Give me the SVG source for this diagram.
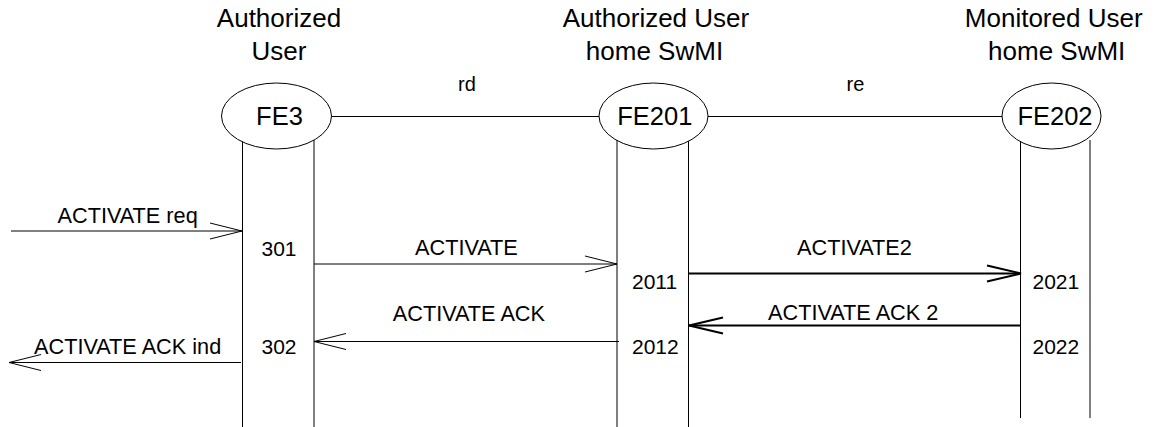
<svg xmlns="http://www.w3.org/2000/svg" width="1159" height="427" viewBox="0 0 1159 427">
<style>
text{font-family:"Liberation Sans",Arial,sans-serif;fill:#000}
.hd{font-size:26px;text-anchor:middle}
.fe{font-size:25.5px;text-anchor:middle}
.lb{font-size:21.7px}
.nm{font-size:21px}
.ln{stroke:#000;stroke-width:1;fill:none}
.tk{stroke:#000;stroke-width:2;fill:none}
</style>
<defs>
<marker id="ah" markerUnits="userSpaceOnUse" markerWidth="40" markerHeight="24" refX="32" refY="10" orient="auto" overflow="visible">
<path d="M0,2 L32,10 L0,18" fill="none" stroke="#000" stroke-width="1"/>
</marker>
<marker id="ahk" markerUnits="userSpaceOnUse" markerWidth="40" markerHeight="24" refX="34" refY="10" orient="auto" overflow="visible">
<path d="M0,2 L34,10 L0,18" fill="none" stroke="#000" stroke-width="2"/>
</marker>
</defs>
<g id="connectors">
<line class="ln" x1="332" y1="116.5" x2="599" y2="116.5"/>
<line class="ln" x1="708" y1="116.5" x2="1002" y2="116.5"/>
<text x="458" y="90.5" font-size="20">rd</text>
<text x="846.5" y="90.5" font-size="20">re</text>
<line class="ln" x1="11" y1="231" x2="242" y2="231" marker-end="url(#ah)"/>
<text class="lb" x="57.5" y="222.5">ACTIVATE req</text>
<line class="ln" x1="314" y1="264" x2="617" y2="264" marker-end="url(#ah)"/>
<text class="lb" x="415" y="255">ACTIVATE</text>
<line class="tk" x1="689" y1="273.5" x2="1021" y2="273.5" marker-end="url(#ahk)"/>
<text class="lb" x="797" y="255">ACTIVATE2</text>
<line class="tk" x1="1021" y1="325.5" x2="689" y2="325.5" marker-end="url(#ahk)"/>
<text class="lb" x="768" y="320">ACTIVATE ACK 2</text>
<line class="ln" x1="619" y1="341.5" x2="314" y2="341.5" marker-end="url(#ah)"/>
<text class="lb" x="545" y="320.5" text-anchor="end">ACTIVATE ACK</text>
<line class="ln" x1="241" y1="362.5" x2="9" y2="362.5" marker-end="url(#ah)"/>
<text class="lb" x="34" y="354">ACTIVATE ACK ind</text>
</g>
<g id="FE3">
<text class="hd" x="279" y="26.5">Authorized</text>
<text class="hd" x="279" y="59.5">User</text>
<line class="ln" x1="242.5" y1="140" x2="242.5" y2="427"/>
<line class="ln" x1="314" y1="140" x2="314" y2="427"/>
<ellipse cx="276.5" cy="116" rx="55" ry="33" fill="#fff" stroke="#000" stroke-width="1"/>
<text class="fe" x="279.5" y="125">FE3</text>
<text class="nm" x="261.5" y="255.5">301</text>
<text class="nm" x="261.5" y="354">302</text>
</g>
<g id="FE201">
<text class="hd" x="656" y="26.5">Authorized User</text>
<text class="hd" x="654.5" y="59.5">home SwMI</text>
<line class="ln" x1="617" y1="140" x2="617" y2="427"/>
<line class="ln" x1="688.5" y1="140" x2="688.5" y2="427"/>
<ellipse cx="653.5" cy="116" rx="54.5" ry="33" fill="#fff" stroke="#000" stroke-width="1"/>
<text class="fe" x="654.8" y="125">FE201</text>
<text class="nm" x="632" y="288.5">2011</text>
<text class="nm" x="632" y="354">2012</text>
</g>
<g id="FE202">
<text class="hd" x="1053.7" y="26.5">Monitored User</text>
<text class="hd" x="1056.7" y="59.5">home SwMI</text>
<line class="ln" x1="1020.5" y1="140" x2="1020.5" y2="418"/>
<line class="ln" x1="1090" y1="140" x2="1090" y2="418"/>
<ellipse cx="1051.5" cy="116" rx="49.5" ry="33" fill="#fff" stroke="#000" stroke-width="1"/>
<text class="fe" x="1055" y="125">FE202</text>
<text class="nm" x="1032.5" y="288.5">2021</text>
<text class="nm" x="1032.5" y="354">2022</text>
</g>
</svg>
